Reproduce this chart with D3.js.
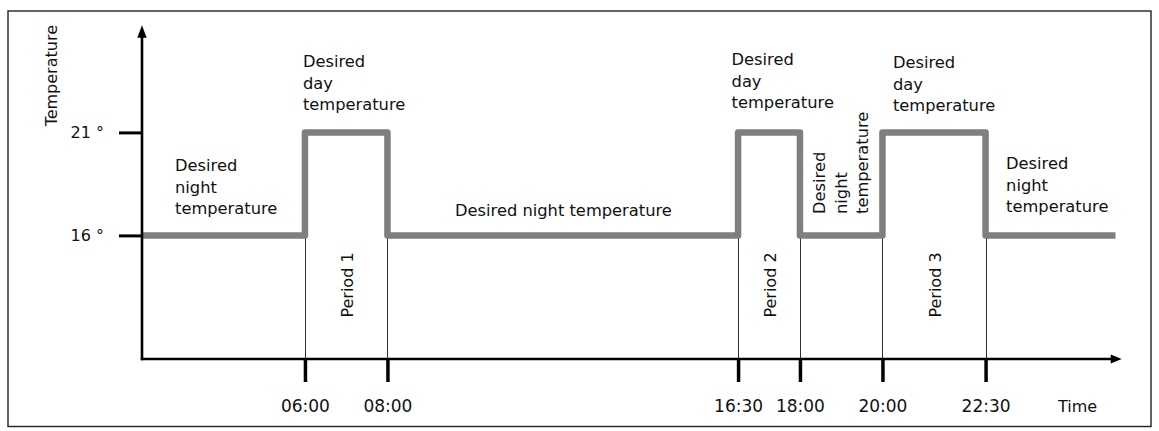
<!DOCTYPE html>
<html>
<head>
<meta charset="utf-8">
<script src="https://cdn.jsdelivr.net/npm/d3@7/dist/d3.min.js"></script>
<style>
  html, body { margin: 0; padding: 0; background: #fff; }
  svg { display: block; }
  text { font-family: "DejaVu Sans", sans-serif; fill: #111; }
</style>
</head>
<body>
<svg id="chart" width="1159" height="431"></svg>
<script>
// ---- data ----
const tickHours = [6, 8, 16.5, 18, 20, 22.5];
const tickLabels = ["06:00", "08:00", "16:30", "18:00", "20:00", "22:30"];
const tempTicks = [16, 21];
const tempTickLabels = ["16 °", "21 °"];
const profileHours = [2.05, 6, 8, 16.5, 18, 20, 22.5, 25.65];
const profileTemps = [16, 21, 16, 21, 16, 21, 16, 16];
const periodLabels = ["Period 1", "Period 2", "Period 3"];
const nightLabel = ["Desired", "night", "temperature"];
const dayLabel = ["Desired", "day", "temperature"];
const nightLabelOneLine = "Desired night temperature";
const yTitle = "Temperature";
const xTitle = "Time";

// ---- scales ----
const svg = d3.select("#chart");
const x = d3.scaleLinear().domain([2.05, 25.8]).range([142, 1121.7]);
const y = d3.scaleLinear().domain([10, 26.2]).range([359, 25.3]);
const x0 = x.range()[0], y0 = y.range()[0];

// frame
svg.append("rect").attr("x", 8).attr("y", 11).attr("width", 1143).attr("height", 415.5)
  .attr("fill", "none").attr("stroke", "#222").attr("stroke-width", 1.4);

// vertical thin period lines
svg.append("g").selectAll("line").data(tickHours).join("line")
  .attr("x1", d => Math.round(x(d)) + 0.5).attr("x2", d => Math.round(x(d)) + 0.5)
  .attr("y1", y(16)).attr("y2", y0)
  .attr("stroke", "#333").attr("stroke-width", 1);

// temperature profile
const pts = profileHours.map((h, i) => [h, profileTemps[i]]);
svg.append("path").datum(pts)
  .attr("d", d3.line().x(d => x(d[0])).y(d => y(d[1])).curve(d3.curveStepAfter))
  .attr("fill", "none").attr("stroke", "#7f7f7f").attr("stroke-width", 6.5)
  .attr("stroke-linejoin", "round").attr("stroke-linecap", "butt");

// y axis
const yAxis = svg.append("g").attr("transform", `translate(${x0},0)`)
  .call(d3.axisLeft(y).tickValues(tempTicks).tickSize(23).tickPadding(15)
    .tickFormat((d, i) => tempTickLabels[i]));
yAxis.select(".domain").remove();
yAxis.selectAll(".tick line").attr("stroke", "#000").attr("stroke-width", 3);
yAxis.selectAll(".tick text").attr("font-size", 16).attr("font-family", "DejaVu Sans").attr("fill", "#111");

// x axis
const xAxis = svg.append("g").attr("transform", `translate(0,${y0})`)
  .call(d3.axisBottom(x).tickValues(tickHours).tickSize(23)
    .tickFormat((d, i) => tickLabels[i]));
xAxis.select(".domain").remove();
xAxis.selectAll(".tick line").attr("stroke", "#000").attr("stroke-width", 3.5);
xAxis.selectAll(".tick text").attr("font-size", 17).attr("font-family", "DejaVu Sans")
  .attr("fill", "#111").attr("dy", null).attr("y", 411.7 - y0);

// axis lines with arrows
const tipY = y.range()[1], tipX = x.range()[1];
svg.append("line").attr("x1", x0).attr("x2", x0).attr("y1", y0 + 1.2).attr("y2", tipY + 10)
  .attr("stroke", "#000").attr("stroke-width", 2.6);
svg.append("path").attr("d", `M${x0},${tipY} L${x0 - 4.7},${tipY + 12.5} L${x0 + 4.7},${tipY + 12.5} Z`).attr("fill", "#000");
svg.append("line").attr("x1", x0 - 1.2).attr("x2", tipX - 10).attr("y1", y0).attr("y2", y0)
  .attr("stroke", "#000").attr("stroke-width", 2.6);
svg.append("path").attr("d", `M${tipX},${y0} L${tipX - 11},${y0 - 4.5} L${tipX - 11},${y0 + 4.5} Z`).attr("fill", "#000");

// axis titles
svg.append("text").attr("transform", `translate(56.5,75.7) rotate(-90)`)
  .attr("text-anchor", "middle").attr("font-size", 16).text(yTitle);
svg.append("text").attr("x", 1058).attr("y", 411.7).attr("font-size", 16).text(xTitle);

// multi-line annotations
const lh = 21.5;
function block(lines, px, py) {
  const t = svg.append("text").attr("font-size", 16.3);
  lines.forEach((s, i) => t.append("tspan").attr("x", px).attr("y", py + i * lh).text(s));
}
block(nightLabel, x0 + 33, y(16) - 64);
block(dayLabel, x(6) - 2, y(21) - 65);
block(dayLabel, x(16.5) - 6.5, y(21) - 67);
block(dayLabel, x(20) + 10.5, y(21) - 64);
block(nightLabel, x(22.5) + 20.5, y(16) - 66);
svg.append("text").attr("x", 455).attr("y", y(16) - 19.5).attr("font-size", 16.3).text(nightLabelOneLine);

// rotated night label between 18:00 and 20:00
nightLabel.forEach((s, i) => {
  svg.append("text").attr("transform", `translate(${825 + i * lh},214) rotate(-90)`)
    .attr("font-size", 16.3).text(s);
});

// period labels
const periods = [[6, 8], [16.5, 18], [20, 22.5]];
periods.forEach((p, i) => {
  const cx = (x(p[0]) + x(p[1])) / 2 + 6.8;
  svg.append("text").attr("transform", `translate(${cx},285) rotate(-90)`)
    .attr("text-anchor", "middle").attr("font-size", 16).text(periodLabels[i]);
});
</script>
</body>
</html>
